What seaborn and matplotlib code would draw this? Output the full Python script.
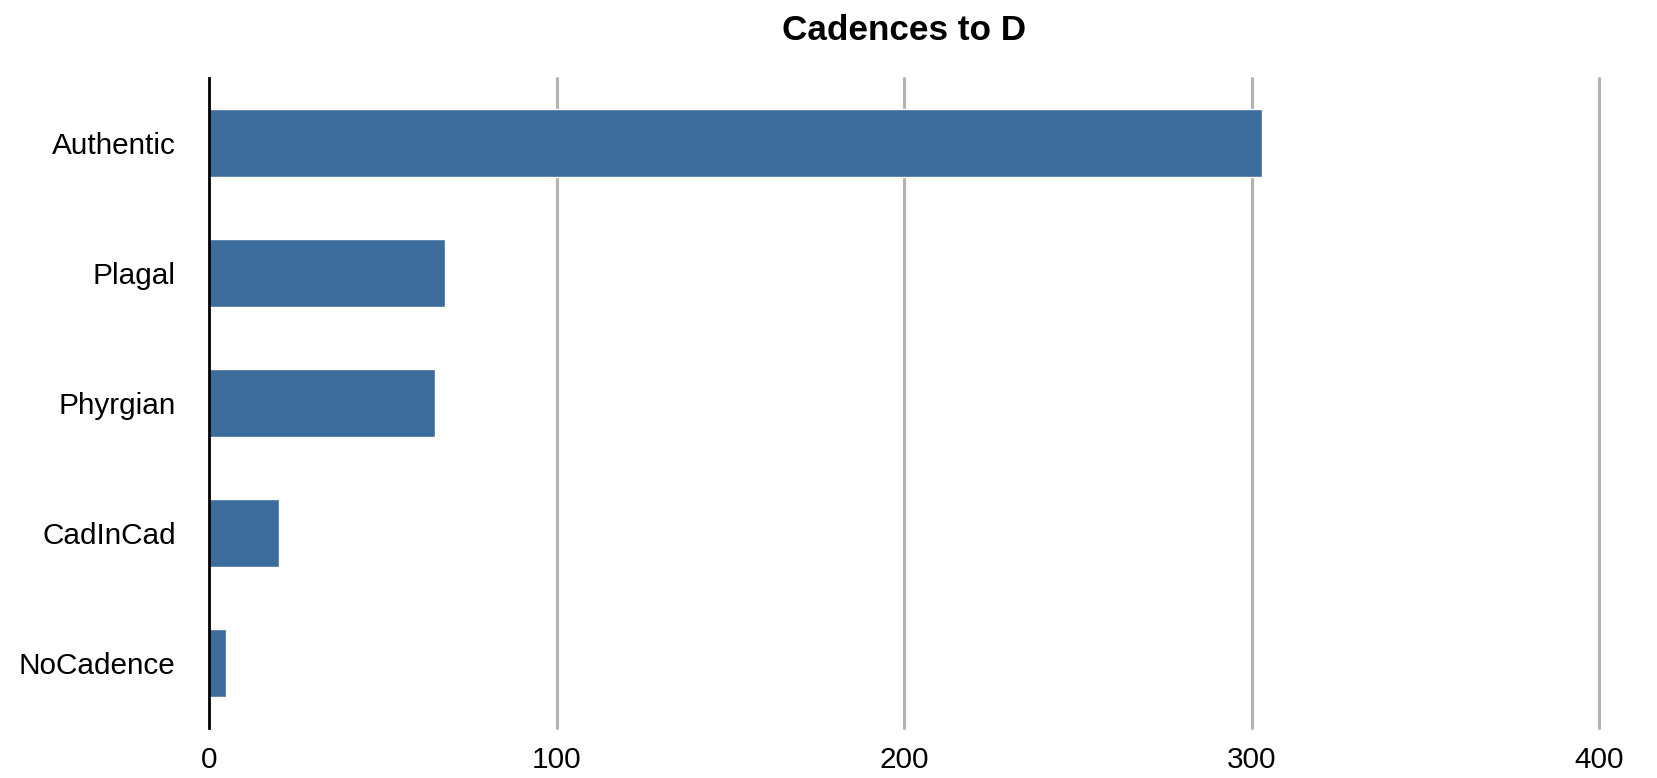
import matplotlib
matplotlib.use("Agg")
import matplotlib.pyplot as plt
import seaborn as sns
import pandas as pd

categories = ["Authentic", "Plagal", "Phyrgian", "CadInCad", "NoCadence"]
counts = [303, 68, 65, 20, 5]
x_ticks = [0, 100, 200, 300, 400]
title = "Cadences to D"

sns.set_theme(style="white")
plt.rcParams['font.family'] = ['Liberation Sans', 'DejaVu Sans']

df = pd.DataFrame({"category": categories, "count": counts})

fig = plt.figure(figsize=(16.57, 7.78), dpi=100)
ax = fig.add_axes([209/1657, 1-728/778, (1599-209)/1657, (728-78)/778])

ax.set_axisbelow(True)
for t in x_ticks[1:]:
    ax.axvline(t, color="#b3b3b3", linewidth=2.2, zorder=0, clip_on=False)

sns.barplot(data=df, x="count", y="category", orient="h", color="#3c6c9c",
            saturation=1, width=0.52, ax=ax, zorder=2)

ax.set_xlim(0, 400)
ax.set_ylim(4.5, -0.5)
ax.set_xticks(x_ticks)
ax.set_xticklabels([str(t) for t in x_ticks])
ax.set_xlabel("")
ax.set_ylabel("")
for s in ["top", "right", "bottom"]:
    ax.spines[s].set_visible(False)
ax.spines["left"].set_color("black")
ax.spines["left"].set_linewidth(2)
ax.spines["left"].set_zorder(3)
ax.tick_params(axis="both", length=0, labelsize=21.4, colors="black")
ax.tick_params(axis="y", pad=24)
ax.tick_params(axis="x", pad=13)
ax.grid(False)

ax.set_title(title, fontsize=25.3, fontweight="bold", pad=27, color="black")

fig.savefig("out.png", dpi=100)
